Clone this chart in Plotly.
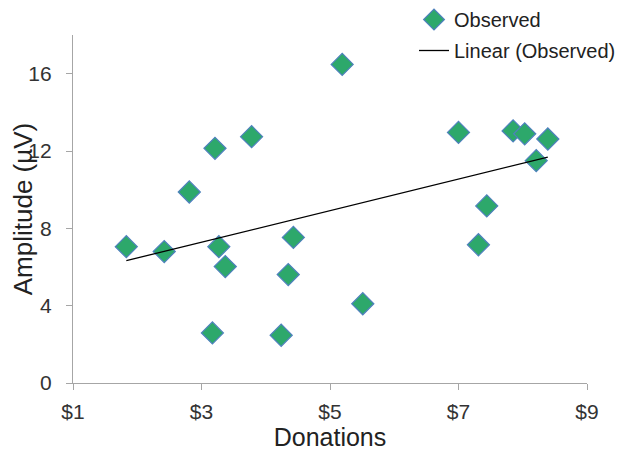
import numpy as np
import plotly.graph_objects as go

donations = [1.83, 2.42, 2.81, 3.21, 3.17, 3.27, 3.37, 3.78, 4.24, 4.35, 4.43, 5.19, 5.51,
             7.00, 7.31, 7.44, 7.85, 8.03, 8.21, 8.39]
amplitude = [7.05, 6.80, 9.88, 12.14, 2.59, 7.05, 6.02, 12.74, 2.47, 5.61, 7.53, 16.48, 4.10,
             12.96, 7.15, 9.16, 13.04, 12.89, 11.50, 12.62]
x_ticks = [1, 3, 5, 7, 9]
y_ticks = [0, 4, 8, 12, 16]

slope, intercept = np.polyfit(donations, amplitude, 1)
trend_x = [min(donations), max(donations)]
trend_y = [slope * v + intercept for v in trend_x]

fig = go.Figure()
fig.add_trace(go.Scatter(
    x=donations, y=amplitude, mode="markers", name="Observed",
    marker=dict(symbol="diamond", size=17, color="#2da86b",
                line=dict(color="#4f81bd", width=1.2)),
    legendgroup="a"))
fig.add_trace(go.Scatter(
    x=trend_x, y=trend_y, mode="lines", name="Linear (Observed)",
    line=dict(color="#000000", width=1.3), legendgroup="b"))

FAM = "Liberation Sans, Arial, sans-serif"
axis_font = dict(family=FAM, size=21, color="#333333")
fig.update_layout(
    width=629, height=451,
    margin=dict(l=65, r=50, t=27, b=76, autoexpand=False),
    paper_bgcolor="white", plot_bgcolor="white",
    font=dict(family=FAM, color="#222222"),
    legend=dict(x=406 / 629, xref="container", xanchor="left",
                y=1 + 35 / 348, yref="paper", yanchor="top",
                font=dict(size=20, color="#222222"),
                traceorder="grouped", tracegroupgap=2,
                bgcolor="rgba(0,0,0,0)"),
    xaxis=dict(range=[1, 9], tickvals=x_ticks, ticktext=["$" + str(v) for v in x_ticks],
               showgrid=False, zeroline=False, showline=True, linecolor="#a6a6a6", linewidth=1.3,
               ticks="outside", ticklen=6, tickcolor="#a6a6a6", tickfont=axis_font,
               ticklabelstandoff=4, automargin=False,
               title=dict(text="Donations", font=dict(size=25, color="#222222"), standoff=5)),
    yaxis=dict(range=[0, 18], tickvals=y_ticks,
               showgrid=False, zeroline=False, showline=True, linecolor="#a6a6a6", linewidth=1.3,
               ticks="outside", ticklen=6, tickcolor="#a6a6a6", tickfont=axis_font,
               ticklabelstandoff=10, automargin=False,
               title=dict(text="Amplitude (µV)", font=dict(size=26, color="#222222"), standoff=12)),
)
fig.write_html("out.html")
